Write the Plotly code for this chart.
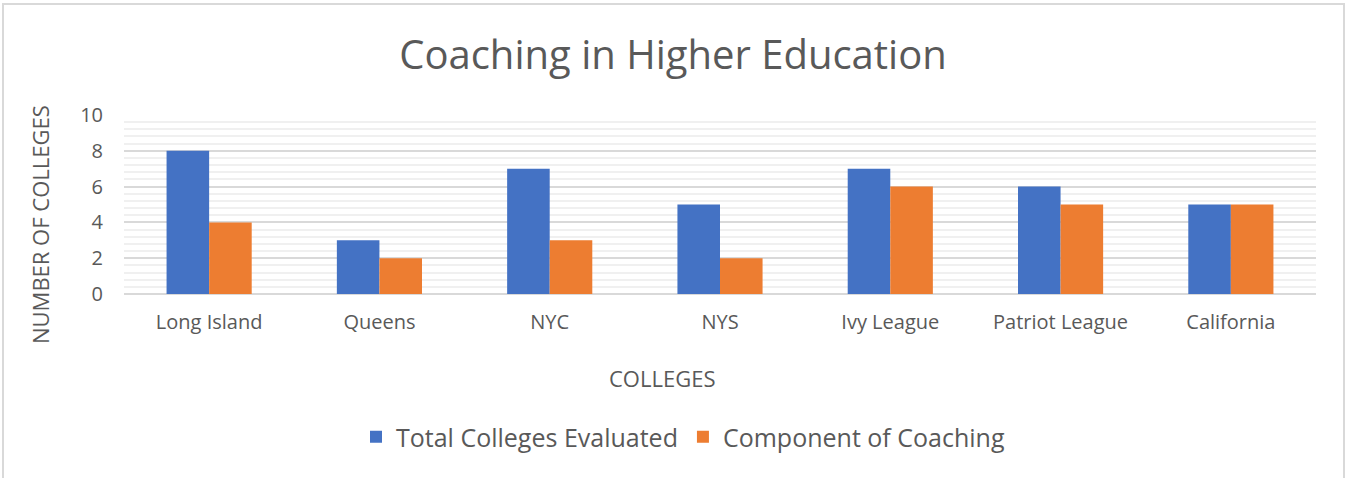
import plotly.graph_objects as go

categories = ["Long Island", "Queens", "NYC", "NYS", "Ivy League", "Patriot League", "California"]
total_evaluated = [8, 3, 7, 5, 7, 6, 5]
component_coaching = [4, 2, 3, 2, 6, 5, 5]
y_ticks = [0, 2, 4, 6, 8, 10]

FONT = "Open Sans"
TXT = "#595959"
W, H = 1346, 478
L, R, T, B = 124, 30, 115, 184
pw, ph = W - L - R, H - T - B

def px(x):
    return (x - L) / pw

def py(y):
    return (H - B - y) / ph

fig = go.Figure()
fig.add_trace(go.Bar(x=categories, y=total_evaluated, name="Total Colleges Evaluated",
                     marker=dict(color="#4472C4", line=dict(width=0))))
fig.add_trace(go.Bar(x=categories, y=component_coaching, name="Component of Coaching",
                     marker=dict(color="#ED7D31", line=dict(width=0))))

fig.update_layout(
    width=W, height=H,
    margin=dict(l=L, r=R, t=T, b=B),
    paper_bgcolor="white", plot_bgcolor="white",
    barmode="group", bargap=0.5, bargroupgap=0,
    font=dict(family=FONT, color=TXT, size=20),
    title=dict(text="Coaching in Higher Education", x=0.5, xanchor="center",
               y=1 - 55 / H, yanchor="middle", yref="container",
               font=dict(size=40, color=TXT, family=FONT)),
    showlegend=True,
    legend=dict(orientation="h", x=px(683), xanchor="center", y=py(437), yanchor="middle",
                font=dict(size=25, color=TXT, family=FONT), itemwidth=30,
                traceorder="normal"),
    xaxis=dict(showgrid=False, showline=False, ticks="", tickfont=dict(size=20, color=TXT),
               ticklabelstandoff=14),
    yaxis=dict(range=[0, 10], tickvals=y_ticks, showgrid=True, gridcolor="#d9d9d9", gridwidth=1.5,
               zeroline=True, zerolinecolor="#d9d9d9", zerolinewidth=2,
               tickfont=dict(size=20, color=TXT), ticks="", ticklabelstandoff=20,
               minor=dict(dtick=0.4, showgrid=True, gridcolor="#f0f0f0", gridwidth=1.5)),
    annotations=[
        dict(text="COLLEGES", x=px(662), y=py(378), xref="paper", yref="paper",
             showarrow=False, font=dict(size=22, color=TXT, family=FONT),
             xanchor="center", yanchor="middle"),
        dict(text="NUMBER OF COLLEGES", x=px(40), y=py(225), xref="paper", yref="paper",
             showarrow=False, textangle=-90, font=dict(size=22, color=TXT, family=FONT),
             xanchor="center", yanchor="middle"),
    ],
    shapes=[
        dict(type="rect", xref="paper", yref="paper", x0=px(3), x1=px(1344), y0=py(490), y1=py(4),
             line=dict(color="#d9d9d9", width=2), fillcolor="rgba(0,0,0,0)", layer="below"),
    ],
)

fig.write_html("out.html", config={"displayModeBar": False},
               post_script="document.body.style.margin='0';document.body.style.padding='0';")
